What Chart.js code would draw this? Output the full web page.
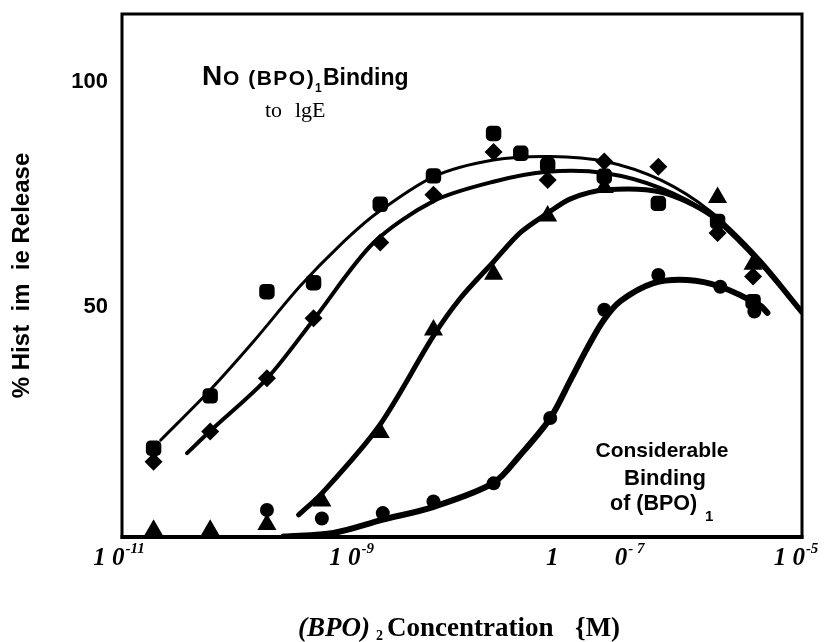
<!DOCTYPE html>
<html>
<head>
<meta charset="utf-8">
<script src="https://cdn.jsdelivr.net/npm/chart.js@4.4.1/dist/chart.umd.min.js"></script>
<style>
html,body{margin:0;padding:0;background:#fff;}
#wrap{width:829px;height:642px;position:relative;}
</style>
</head>
<body>
<div id="wrap"><canvas id="c" width="829" height="642"></canvas></div>
<script>
// ---------- data (concentration in M, % histamine release) ----------
const squareConc    = [1.9e-11, 6.0e-11, 1.9e-10, 4.9e-10, 1.9e-9, 5.6e-9, 1.9e-8, 3.3e-8, 5.7e-8, 1.8e-7, 5.4e-7, 1.8e-6, 3.7e-6];
const squareRelease = [18.7, 30.3, 53.4, 55.4, 72.8, 79.1, 88.5, 84.1, 81.5, 79.0, 73.0, 69.0, 51.2];

const diamondConc    = [1.9e-11, 6.0e-11, 1.9e-10, 4.9e-10, 1.9e-9, 5.6e-9, 1.9e-8, 5.7e-8, 1.8e-7, 5.4e-7, 1.8e-6, 3.7e-6];
const diamondRelease = [15.7, 22.4, 34.2, 47.5, 64.3, 74.9, 84.4, 78.2, 82.3, 81.1, 66.4, 56.8];

const triangleConc    = [1.9e-11, 6.0e-11, 1.9e-10, 5.8e-10, 1.9e-9, 5.6e-9, 1.9e-8, 5.7e-8, 1.8e-7, 1.8e-6, 3.7e-6];
const triangleRelease = [0.5, 0.5, 1.8, 7.0, 22.2, 44.9, 57.3, 70.2, 76.5, 74.3, 59.5];

const circleConc    = [1.9e-10, 5.8e-10, 2.0e-9, 5.6e-9, 1.9e-8, 6.0e-8, 1.8e-7, 5.4e-7, 1.9e-6, 3.8e-6];
const circleRelease = [5.0, 3.1, 4.3, 6.9, 10.9, 25.4, 49.4, 57.1, 54.5, 49.0];

// fitted curves
const curveAConc    = [2.2e-11, 6.0e-11, 1.44e-10, 3.75e-10, 8.45e-10, 1.79e-9, 5.6e-9, 1.89e-8, 6.0e-8, 1.85e-7, 5.64e-7, 1.56e-6, 4.29e-6, 9.9e-6];
const curveARelease = [20.5, 31.6, 42.3, 54.7, 63.8, 70.9, 78.9, 82.6, 83.4, 82.3, 78.2, 71.2, 60.5, 49.4];

const curveBConc    = [3.75e-11, 5.93e-11, 1.91e-10, 4.9e-10, 1.65e-9, 5.6e-9, 1.89e-8, 5.68e-8, 1.85e-7, 5.64e-7, 1.56e-6, 4.29e-6, 9.9e-6];
const curveBRelease = [17.6, 22.4, 34.2, 47.2, 64.2, 73.5, 77.8, 80.0, 79.7, 76.4, 70.4, 59.8, 48.9];

const curveCConc    = [3.62e-10, 5.82e-10, 1.84e-9, 5.6e-9, 9.7e-9, 1.89e-8, 3.27e-8, 5.68e-8, 9.06e-8, 1.85e-7, 5.64e-7, 1.56e-6, 4.29e-6, 9.9e-6];
const curveCRelease = [3.9, 8.7, 23.5, 43.6, 52.0, 60.0, 66.5, 70.8, 74.0, 76.0, 75.5, 70.4, 59.8, 48.9];

const curveDConc    = [2.67e-10, 7.33e-10, 1.97e-9, 5.62e-9, 1.9e-8, 3.27e-8, 6.03e-8, 9.06e-8, 1.28e-7, 1.77e-7, 2.5e-7, 4.89e-7, 9.75e-7, 1.91e-6, 4.29e-6, 4.95e-6];
const curveDRelease = [-0.9, -0.1, 2.8, 5.7, 11.0, 17.2, 25.4, 33.8, 41.0, 47.0, 51.3, 55.3, 56.0, 54.5, 50.3, 48.7];

// axes
const xTickValues = [1e-11, 1e-9, 1e-7, 1e-5];
const xTickMain   = ["1 0", "1 0", "1         0", "1 0"];
const xTickExp    = ["-11", "-9", "- 7", "-5"];
const yTickValues = [50, 100];
const yTitle = "% Hist  im  ie Release";

// annotation texts
const noteTopN = "N", noteTopO = "O (BPO)", noteTopSub = "1", noteTopB = "Binding";
const noteTop2a = "to", noteTop2b = "lgE";
const noteRight = ["Considerable", "Binding", "of (BPO)"], noteRightSub = "1";
const xTitleA = "(BPO)", xTitleSub = "2", xTitleB = "Concentration", xTitleC = "{M)";

// ---------- build ----------
const pts = (xs, ys) => xs.map((x, i) => ({x: x, y: ys[i]}));
const SANS = "'Liberation Sans', Arial, sans-serif";
const SERIF = "'Liberation Serif', 'Times New Roman', serif";
const X_LABEL_SHIFT = [-3, 3, 20, -6];   // label placement tweaks (px)

function curve(xs, ys, w) {
  return {data: pts(xs, ys), showLine: true, borderColor: '#000', borderWidth: w,
          pointRadius: 0, pointHoverRadius: 0, tension: 0.3,
          fill: false, borderCapStyle: 'round', borderJoinStyle: 'round'};
}
function markers(xs, ys, style, r) {
  return {data: pts(xs, ys), showLine: false, pointStyle: style, pointRadius: r,
          pointHoverRadius: r, backgroundColor: '#000', borderColor: '#000', borderWidth: 0, clip: false};
}

const overlay = {
  id: 'overlay',
  beforeDatasetsDraw(chart) {
    const {ctx, chartArea: a} = chart;
    ctx.save();
    ctx.strokeStyle = '#000';
    ctx.lineWidth = 3;
    ctx.strokeRect(a.left, a.top, a.right - a.left, a.bottom - a.top);
    ctx.lineWidth = 4;
    ctx.beginPath(); ctx.moveTo(a.left - 1.5, a.bottom); ctx.lineTo(a.right + 1.5, a.bottom); ctx.stroke();
    ctx.restore();
  },
  afterDraw(chart) {
    const ctx = chart.ctx;
    const xs = chart.scales.x;
    ctx.save();
    ctx.fillStyle = '#000';
    ctx.textBaseline = 'alphabetic';
    ctx.textAlign = 'left';

    // x tick labels
    xTickValues.forEach((v, i) => {
      const px = xs.getPixelForValue(v) + X_LABEL_SHIFT[i];
      ctx.font = "italic bold 25px " + SERIF;
      const wm = ctx.measureText(xTickMain[i]).width;
      ctx.font = "italic bold 15px " + SERIF;
      const we = ctx.measureText(xTickExp[i]).width;
      const start = px - (wm + 1 + we) / 2;
      ctx.font = "italic bold 25px " + SERIF;
      ctx.fillText(xTickMain[i], start, 565);
      ctx.font = "italic bold 15px " + SERIF;
      ctx.fillText(xTickExp[i], start + wm + 1, 553);
    });

    // x axis title
    ctx.font = "italic bold 27px " + SERIF;
    ctx.fillText(xTitleA, 298, 636);
    ctx.font = "bold 14px " + SERIF;
    ctx.fillText(xTitleSub, 376, 640);
    ctx.font = "bold 27px " + SERIF;
    ctx.fillText(xTitleB, 387, 636);
    ctx.fillText(xTitleC, 575, 636);

    // top annotation
    ctx.font = "bold 28px " + SANS;
    ctx.fillText(noteTopN, 202, 85);
    ctx.font = "bold 21px " + SANS;
    try { ctx.letterSpacing = '1.5px'; } catch (e) {}
    ctx.fillText(noteTopO, 223, 85);
    try { ctx.letterSpacing = '0px'; } catch (e) {}
    ctx.font = "bold 12px " + SANS;
    ctx.fillText(noteTopSub, 315, 92);
    ctx.font = "bold 23px " + SANS;
    ctx.fillText(noteTopB, 323, 85);
    ctx.font = "22px " + SERIF;
    ctx.fillText(noteTop2a, 265, 117);
    ctx.fillText(noteTop2b, 295, 117);

    // right annotation
    ctx.font = "bold 21px " + SANS;
    ctx.textAlign = 'center';
    ctx.fillText(noteRight[0], 662, 457);
    ctx.font = "bold 22px " + SANS;
    ctx.fillText(noteRight[1], 665, 485);
    ctx.textAlign = 'left';
    ctx.font = "bold 21.5px " + SANS;
    ctx.fillText(noteRight[2], 610, 510);
    ctx.font = "bold 15px " + SANS;
    ctx.fillText(noteRightSub, 705, 521);
    ctx.restore();
  }
};

new Chart(document.getElementById('c'), {
  type: 'scatter',
  data: {
    datasets: [
      curve(curveAConc, curveARelease, 3),
      curve(curveBConc, curveBRelease, 4),
      curve(curveCConc, curveCRelease, 5),
      curve(curveDConc, curveDRelease, 6),
      markers(squareConc, squareRelease, 'rectRounded', 9),
      markers(diamondConc, diamondRelease, 'rectRot', 9),
      markers(triangleConc, triangleRelease, 'triangle', 11),
      markers(circleConc, circleRelease, 'circle', 7)
    ]
  },
  options: {
    responsive: false,
    animation: false,
    devicePixelRatio: 1,
    events: [],
    layout: {padding: {left: 0, right: 27, top: 14, bottom: 0}},
    plugins: {legend: {display: false}, tooltip: {enabled: false}},
    scales: {
      x: {
        type: 'logarithmic', min: 1e-11, max: 1e-5, position: 'bottom',
        grid: {display: false, drawTicks: false}, border: {display: false},
        ticks: {display: false},
        afterBuildTicks: s => { s.ticks = xTickValues.map(v => ({value: v})); },
        afterFit: s => { s.height = 105; s.paddingLeft = 0; s.paddingRight = 0; s.paddingTop = 0; s.paddingBottom = 0; }
      },
      y: {
        type: 'linear', min: -1, max: 115, position: 'left',
        grid: {display: false, drawTicks: false}, border: {display: false},
        afterBuildTicks: s => { s.ticks = yTickValues.map(v => ({value: v})); },
        ticks: {color: '#000', padding: 14, font: {family: SANS, weight: 'bold', size: 22},
                callback: v => String(v)},
        title: {display: true, text: yTitle, color: '#000',
                font: {family: SANS, weight: 'bold', size: 24}, padding: {top: 8, bottom: 0}},
        afterFit: s => { s.width = 122; s.paddingLeft = 0; s.paddingRight = 0; s.paddingTop = 0; s.paddingBottom = 0; }
      }
    }
  },
  plugins: [overlay]
});
</script>
</body>
</html>
